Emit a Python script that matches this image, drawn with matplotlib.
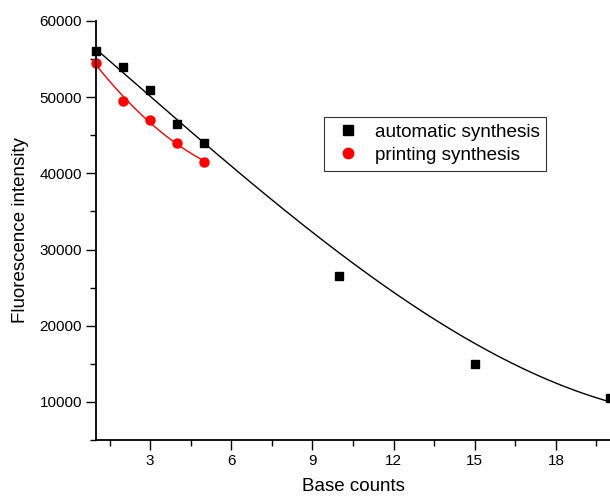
import numpy as np
import matplotlib
matplotlib.use("Agg")
import matplotlib.pyplot as plt
from matplotlib.ticker import MultipleLocator

plt.rcParams['font.family'] = ['Liberation Sans', 'DejaVu Sans']

auto_x = [1, 2, 3, 4, 5, 10, 15, 20]
auto_y = [56000, 54000, 51000, 46500, 44000, 26500, 15000, 10500]
print_x = [1, 2, 3, 4, 5]
print_y = [54500, 49500, 47000, 44000, 41500]

# fitted-curve values (automatic synthesis fit)
autofit_x = [1, 5, 10, 15, 20]
autofit_y = [56300, 44000, 29500, 17700, 10000]

fig = plt.figure(figsize=(6.1, 4.97), dpi=100)
ax = fig.add_axes([96/610, 57/497, 514/610, 419/497])

# fitted curves
ca = np.polyfit(autofit_x, autofit_y, 3)
xa = np.linspace(min(autofit_x), max(autofit_x), 300)
ax.plot(xa, np.polyval(ca, xa), color='black', lw=1)
cp = np.polyfit(print_x, print_y, 2)
xp = np.linspace(min(print_x), max(print_x), 100)
ax.plot(xp, np.polyval(cp, xp), color='red', lw=1)

ax.plot(auto_x, auto_y, 's', color='black', ms=5.5, label='automatic synthesis', clip_on=False)
ax.plot(print_x, print_y, 'o', color='red', ms=6.5, label='printing synthesis', clip_on=False)

ax.set_xlim(1, 20)
ax.set_ylim(5000, 60000)
ax.xaxis.set_minor_locator(MultipleLocator(1.5))
ax.yaxis.set_minor_locator(MultipleLocator(5000))
ax.set_xticks([3, 6, 9, 12, 15, 18])
ax.set_yticks([10000, 20000, 30000, 40000, 50000, 60000])

for s in ['top', 'right']:
    ax.spines[s].set_visible(False)
for s in ['left', 'bottom']:
    ax.spines[s].set_linewidth(1.3)

ax.tick_params(which='major', direction='out', length=7, width=1.0, labelsize=11, pad=3)
ax.tick_params(which='minor', direction='out', length=4, width=1.0)

ax.set_xlabel('Base counts', fontsize=13.5, labelpad=7)
ax.set_ylabel('Fluorescence intensity', fontsize=13.5, labelpad=8)

leg = ax.legend(loc='upper left', bbox_to_anchor=(0.4436, 0.771), borderaxespad=0,
                fontsize=13.6, frameon=True, fancybox=False, edgecolor='black',
                borderpad=0.35, handletextpad=0.51, labelspacing=0.32, handlelength=1.84)
leg.get_frame().set_linewidth(0.8)
for h, m in zip(leg.legend_handles, [7, 7.5]):
    h.set_markersize(m)

fig.savefig('out.png', dpi=100)
